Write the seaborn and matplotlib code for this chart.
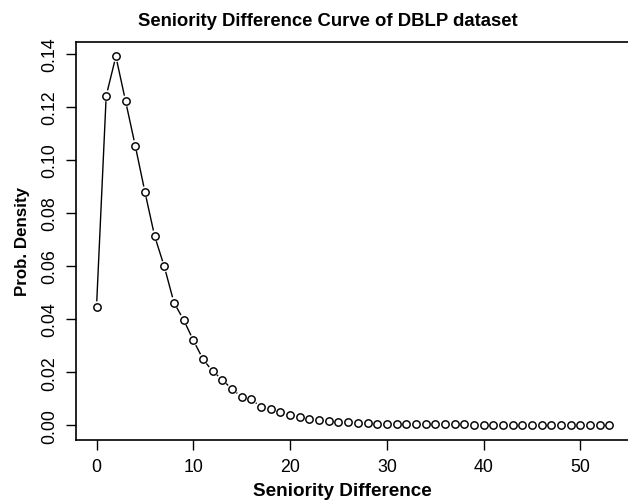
import numpy as np
import pandas as pd
import matplotlib
matplotlib.use("Agg")
import matplotlib.pyplot as plt
import seaborn as sns

# ---- data ----
seniority_diff = list(range(0, 54))
prob_density = [
    0.0446, 0.1241, 0.1389, 0.1221, 0.1053, 0.0879, 0.0713, 0.0598, 0.0462, 0.0397,
    0.0320, 0.0249, 0.0203, 0.0172, 0.0135, 0.0108, 0.0097, 0.0069, 0.0063, 0.0050,
    0.0039, 0.0032, 0.0024, 0.0020, 0.0017, 0.0014, 0.0011, 0.0008, 0.0007, 0.0006,
    0.0005, 0.0005, 0.0004, 0.0004, 0.0004, 0.0003, 0.0003, 0.0003, 0.0003, 0.0002,
    0.0002, 0.0002, 0.0002, 0.0002, 0.0002, 0.0001, 0.0001, 0.0001, 0.0001, 0.0001,
    0.0001, 0.0001, 0.0001, 0.0001,
]
x_ticks = [0, 10, 20, 30, 40, 50]
y_ticks = [0.00, 0.02, 0.04, 0.06, 0.08, 0.10, 0.12, 0.14]
y_tick_labels = ["0.00", "0.02", "0.04", "0.06", "0.08", "0.10", "0.12", "0.14"]

df = pd.DataFrame({"diff": seniority_diff, "dens": prob_density})

sns.set_style("ticks")
plt.rcParams["font.family"] = ["Liberation Sans", "DejaVu Sans"]
plt.rcParams["text.color"] = "black"
plt.rcParams["axes.labelcolor"] = "black"
plt.rcParams["xtick.color"] = "black"
plt.rcParams["ytick.color"] = "black"

fig = plt.figure(figsize=(6.28, 5.02), dpi=100)
ax = fig.add_axes([76 / 628, (502 - 441) / 502, 554 / 628, (441 - 42.7) / 502])

xmin, xmax = min(seniority_diff), max(seniority_diff)
ymin, ymax = 0.0, max(prob_density)
xpad = 0.04 * (xmax - xmin)
ypad = 0.04 * (ymax - ymin)
ax.set_xlim(xmin - xpad, xmax + xpad)
ax.set_ylim(ymin - ypad, ymax + ypad)

# points (open circles)
sns.scatterplot(data=df, x="diff", y="dens", ax=ax, marker="o", s=28,
                facecolor="white", edgecolor="black", linewidth=1.05, zorder=3,
                legend=False)

# R type="b" style connecting segments with gaps around points
fig.canvas.draw()
pts = ax.transData.transform(np.column_stack([df["diff"], df["dens"]]))
gap = 5.5
inv = ax.transData.inverted()
for i in range(len(pts) - 1):
    p0, p1 = pts[i], pts[i + 1]
    d = p1 - p0
    L = np.hypot(*d)
    if L <= 2 * gap:
        continue
    u = d / L
    a = inv.transform(p0 + u * gap)
    b = inv.transform(p1 - u * gap)
    ax.plot([a[0], b[0]], [a[1], b[1]], color="black", lw=1.0, zorder=2,
            solid_capstyle="butt")

ax.set_xticks(x_ticks)
ax.set_yticks(y_ticks)
ax.set_yticklabels(y_tick_labels, rotation=90, va="center")
ax.tick_params(axis="both", direction="out", length=7, width=1, labelsize=12.8,
               color="black", labelcolor="black", pad=6)

for side in ["left", "bottom", "top", "right"]:
    ax.spines[side].set_visible(True)
    ax.spines[side].set_color("black")
    ax.spines[side].set_linewidth(1.2)

ax.set_xlabel("Seniority Difference", fontsize=13.6, fontweight="bold", labelpad=5)
ax.xaxis.set_label_coords((342 - 76) / 554, -0.106)
ax.set_ylabel("Prob. Density", fontsize=12.2, fontweight="bold", labelpad=8)
ax.set_title("Seniority Difference Curve of DBLP dataset", fontsize=13.3,
             fontweight="bold", pad=12, x=(328 - 76) / 554)

fig.savefig("out.png", dpi=100)
